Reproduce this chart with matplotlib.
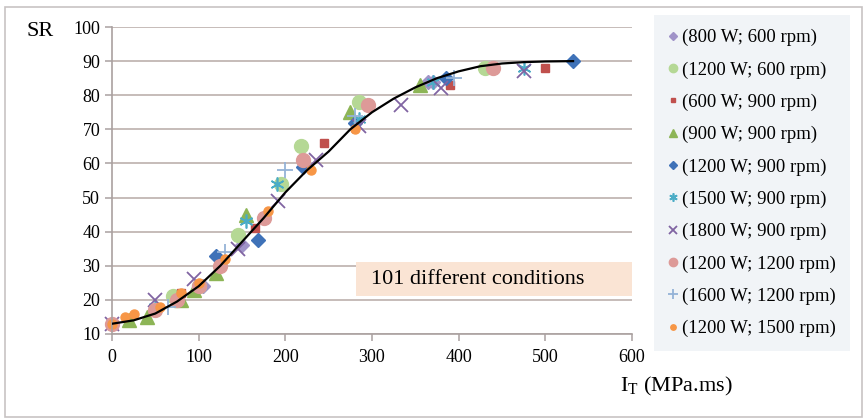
import matplotlib
matplotlib.use("Agg")
import matplotlib.pyplot as plt
from matplotlib.patches import Rectangle

plt.rcParams['font.family'] = ['Liberation Serif', 'DejaVu Serif']

# series: (I_T, SR) per condition
labels = ["(800 W; 600 rpm)", "(1200 W; 600 rpm)", "(600 W; 900 rpm)", "(900 W; 900 rpm)",
          "(1200 W; 900 rpm)", "(1500 W; 900 rpm)", "(1800 W; 900 rpm)", "(1200 W; 1200 rpm)",
          "(1600 W; 1200 rpm)", "(1200 W; 1500 rpm)"]

x_800_600 = [105, 150, 365, 370]
y_800_600 = [24, 36, 84, 84]
x_1200_600 = [70, 100, 145, 195, 218, 285, 430]
y_1200_600 = [21, 24, 39, 54, 65, 78, 88]
x_600_900 = [80, 165, 245, 390, 500]
y_600_900 = [22, 41, 66, 83, 88]
x_900_900 = [20, 40, 80, 95, 120, 155, 275, 355]
y_900_900 = [14, 15, 20, 23, 28, 45, 75, 83]
x_1200_900 = [0, 120, 168, 220, 280, 385, 532]
y_1200_900 = [13, 33, 37.5, 59, 72, 85, 90]
x_1500_900 = [50, 155, 190, 285, 370, 475]
y_1500_900 = [18, 43, 54, 73, 84, 88]
x_1800_900 = [0, 50, 95, 145, 192, 235, 285, 333, 380, 475]
y_1800_900 = [13, 20, 26, 35, 49, 61, 71, 77, 82, 87]
x_1200_1200 = [0, 50, 75, 100, 125, 175, 220, 295, 440]
y_1200_1200 = [13, 17, 20, 24, 30, 44, 61, 77, 88]
x_1600_1200 = [65, 130, 200, 280, 395]
y_1600_1200 = [18, 34, 58, 74, 85]
x_1200_1500 = [0, 15, 25, 55, 80, 100, 130, 180, 230, 280]
y_1200_1500 = [13, 15, 16, 18, 22, 25, 32, 46, 58, 70]

# fitted curve
curve_x = [0, 25, 50, 75, 100, 125, 150, 175, 200, 225, 250, 275, 300, 325, 350,
           375, 400, 425, 450, 475, 500, 532]
curve_y = [13, 14, 16, 19.5, 24, 30, 37, 44, 51.5, 58, 63.5, 70, 75, 79, 82.3,
           85, 87, 88.5, 89.3, 89.7, 89.9, 90]

series = [
    (x_800_600, y_800_600, dict(marker='D', color='#a093c8', ms=7)),
    (x_1200_600, y_1200_600, dict(marker='o', color='#b5d895', ms=10)),
    (x_600_900, y_600_900, dict(marker='s', color='#c0504d', ms=6)),
    (x_900_900, y_900_900, dict(marker='^', color='#8db556', ms=10)),
    (x_1200_900, y_1200_900, dict(marker='D', color='#3f72b8', ms=7.5)),
    (x_1500_900, y_1500_900, dict(marker=(6, 2, 0), color='#4bacc6', ms=10, mew=1.2)),
    (x_1800_900, y_1800_900, dict(marker='x', color='#8064a2', ms=10, mew=1.3)),
    (x_1200_1200, y_1200_1200, dict(marker='o', color='#dd9a98', ms=10)),
    (x_1600_1200, y_1600_1200, dict(marker='+', color='#95b3d7', ms=11, mew=1.3)),
    (x_1200_1500, y_1200_1500, dict(marker='o', color='#f79646', ms=6.5)),
]

fig = plt.figure(figsize=(8.66, 4.2), dpi=100)
ax = fig.add_axes([0.1293, 0.2048, 0.6005, 0.7309])

for (xs, ys, st), lab in zip(series, labels):
    ax.plot(xs, ys, linestyle='none', label=lab, clip_on=False, mec=st['color'], **st)

ax.plot(curve_x, curve_y, color='black', lw=1.6, zorder=5)

ax.set_xlim(0, 600)
ax.set_ylim(10, 100)
ax.set_xticks(range(0, 601, 100))
ax.set_yticks(range(10, 101, 10))
ax.grid(axis='y', color='#bcb0ad', lw=1.2)
ax.set_axisbelow(True)
for s in ['top', 'right']:
    ax.spines[s].set_visible(False)
for s in ['left', 'bottom']:
    ax.spines[s].set_color('#aaa1a0')
    ax.spines[s].set_linewidth(1.2)
ax.tick_params(axis='both', labelsize=13, color='#aaa1a0', length=5, width=1.1)
ax.tick_params(axis='x', pad=6)

fig.text(26 / 866, 1 - 32 / 420, "SR", fontsize=16, va='center', ha='left')
fig.text(620 / 866, 1 - 386 / 420, r"I$_\mathregular{T}$ (MPa.ms)", fontsize=16,
         va='center', ha='left')

# annotation box
ax.add_patch(Rectangle((282, 21), 318, 10.2, fc='#fae4d4', ec='none', zorder=1))
ax.text(299, 26, "101 different conditions", fontsize=16, va='center', ha='left', zorder=2)

leg = fig.legend(loc='upper left', bbox_to_anchor=(654 / 866, 1 - 15 / 420),
                 fontsize=13.5, markerscale=0.6, handlelength=0.5, handletextpad=0.25,
                 labelspacing=0.8, borderpad=0.75, borderaxespad=0, frameon=True,
                 fancybox=False)
leg.get_frame().set_facecolor('#eef2f6')
leg.get_frame().set_edgecolor('none')

fig.patches.append(Rectangle((5 / 866, 3 / 420), 857 / 866, 410 / 420, transform=fig.transFigure,
                             fill=False, ec='#c8c3c3', lw=1.2))

fig.savefig("out.png", dpi=100)
